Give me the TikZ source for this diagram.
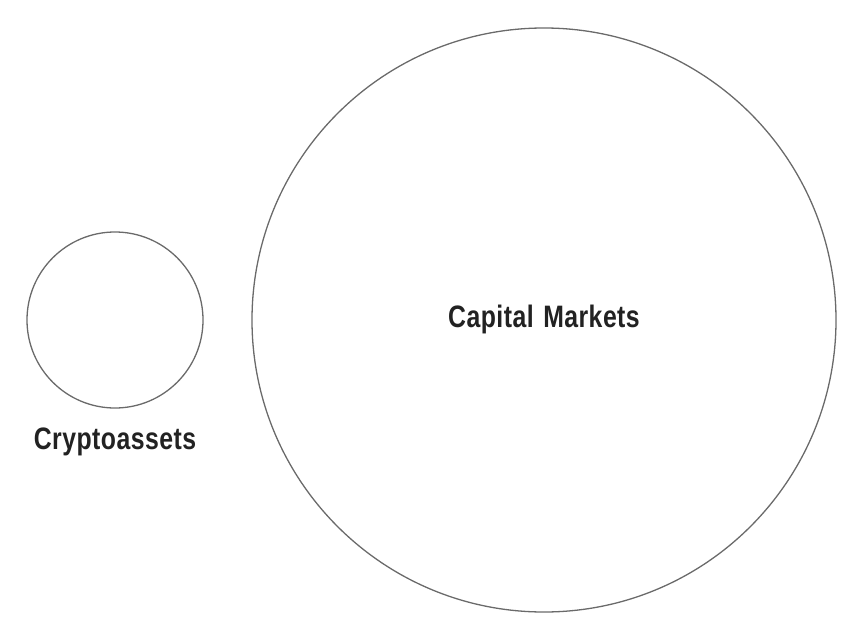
\documentclass[tikz,border=0pt]{standalone}
\usepackage{fontspec}
\setmainfont{Liberation Sans}[FakeStretch=0.8,WordSpace=1.3,LetterSpace=1.5]
\usetikzlibrary{positioning}
\definecolor{ringgray}{HTML}{6A6A6A}
\definecolor{labelink}{HTML}{222222}
\tikzset{ring/.style={circle, draw=ringgray, line width=1.3pt, inner sep=0pt},
  label text/.style={text=labelink, font=\fontsize{31}{34}\selectfont\bfseries, inner sep=0pt}}

\begin{document}
\begin{tikzpicture}[x=1pt,y=-1pt]
\useasboundingbox (0,0) rectangle (862,634);

\node (crypto) [ring, minimum size=176pt] at (115,320) {};
\node (capital) [ring, minimum size=584pt] at (544,320) {};

%labels
\node (cryptolabel) [label text, below=19pt of crypto] {Cryptoassets};
\node (capitallabel) [label text] at ([yshift=1pt]capital) {Capital Markets};
\end{tikzpicture}
\end{document}
